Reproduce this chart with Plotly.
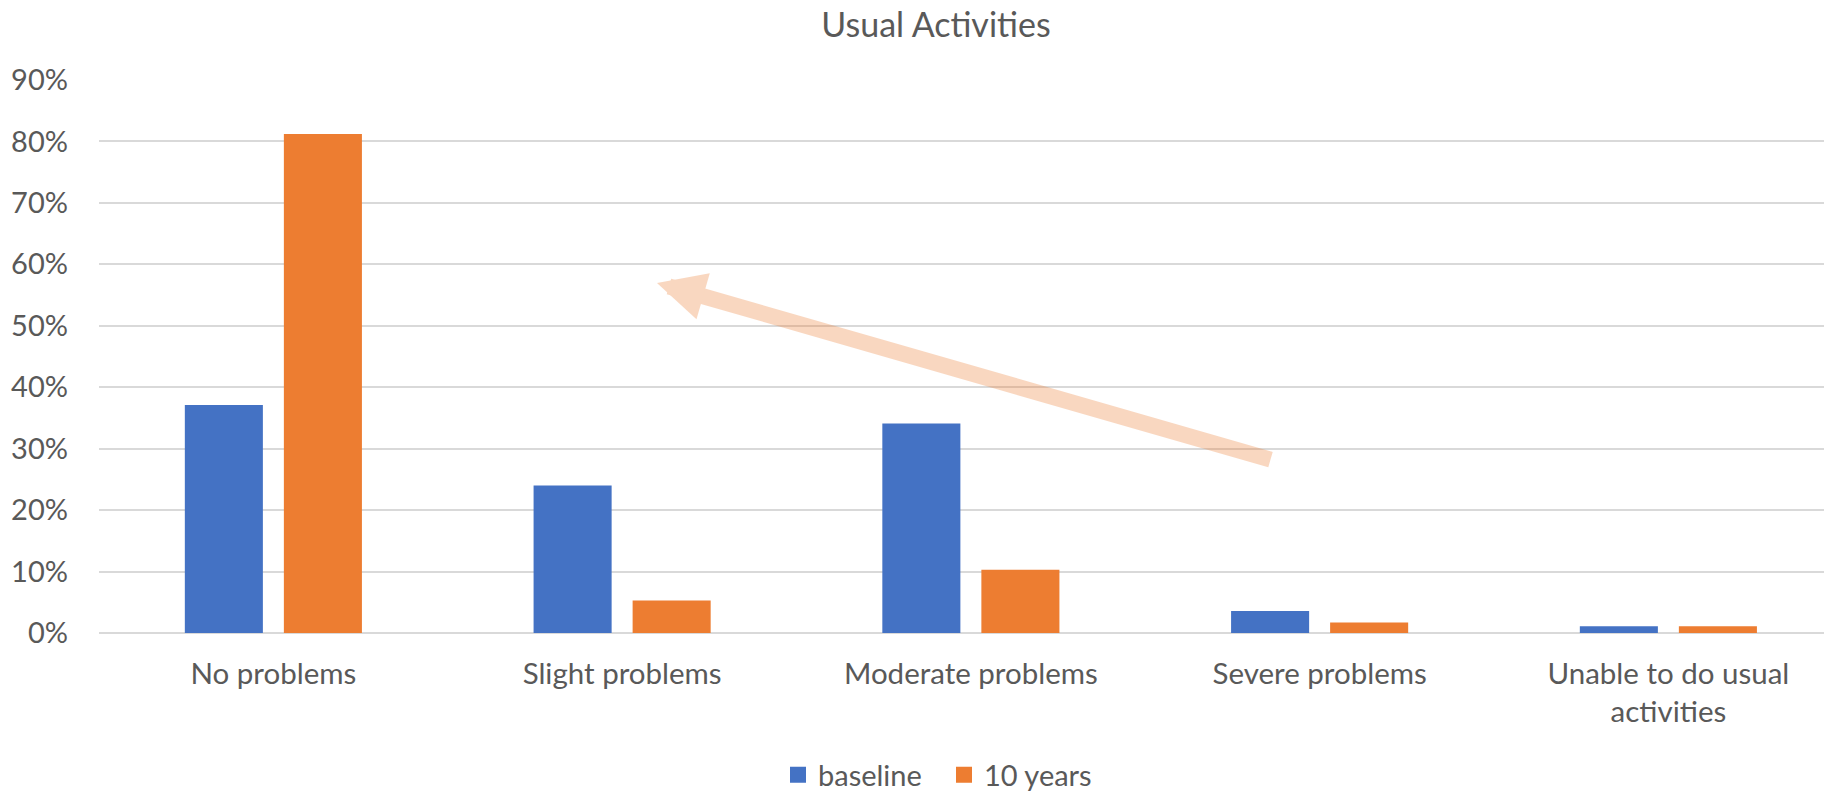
import plotly.graph_objects as go

categories = ["No problems", "Slight problems", "Moderate problems", "Severe problems",
              "Unable to do usual<br>activities"]
baseline = [0.371, 0.240, 0.341, 0.036, 0.011]
ten_years = [0.812, 0.053, 0.103, 0.017, 0.011]
y_ticks = [0, 0.1, 0.2, 0.3, 0.4, 0.5, 0.6, 0.7, 0.8, 0.9]
series_names = ["baseline", "10 years"]
series_colors = ["#4472C4", "#ED7D31"]

FONT = "Lato"
GREY = "#595959"
W, H = 1832, 793
OFF = 8  # page body margin offset of the rendered figure
L, R, T = 99 - OFF, OFF, 80 - OFF
B = H - (633 - OFF)

fig = go.Figure()
xs = list(range(len(categories)))
for name, vals, col in zip(series_names, [baseline, ten_years], series_colors):
    fig.add_trace(go.Bar(x=xs, y=vals, name=name, showlegend=False,
                         marker=dict(color=col, line=dict(width=0))))
# legend entries with larger square swatches
for name, col in zip(series_names, series_colors):
    fig.add_trace(go.Scatter(x=[None], y=[None], mode="markers", name=name,
                             marker=dict(symbol="square", size=16, color=col)))

pw = W - L - R
ph = H - T - B
tip_x, tip_y = 657 - OFF, 283 - OFF
tail_x, tail_y = 1272 - OFF, 460 - OFF

fig.add_annotation(
    x=(tip_x - L) / pw, y=(H - B - tip_y) / ph, xref="paper", yref="paper",
    ax=tail_x - tip_x, ay=tail_y - tip_y, axref="pixel", ayref="pixel",
    showarrow=True, arrowhead=2, arrowsize=0.6, arrowwidth=16,
    arrowcolor="rgba(237,125,49,0.3)", text="",
)

fig.update_layout(
    width=W, height=H,
    margin=dict(l=L, r=R, t=T, b=B, autoexpand=False),
    paper_bgcolor="white", plot_bgcolor="white",
    font=dict(family=FONT, color=GREY, size=27),
    title=dict(text="Usual Activities", x=(936 - OFF) / W, xanchor="center", xref="container",
               y=1 - (25 - OFF) / H, yanchor="middle", font=dict(size=34, color=GREY, family=FONT)),
    barmode="group", bargap=0.432, bargroupgap=0.212,
    showlegend=True,
    legend=dict(orientation="h", x=(944 - OFF - L) / pw, xanchor="center",
                y=(H - B - (775 - OFF)) / ph, yanchor="middle",
                font=dict(size=29, color=GREY, family=FONT), itemwidth=30,
                entrywidth=121, entrywidthmode="pixels",
                traceorder="normal"),
    xaxis=dict(tickmode="array", tickvals=xs, ticktext=categories, automargin=False,
               range=[-0.5, -0.5 + pw / 348.75], showgrid=False, zeroline=False,
               showline=False, ticks="", ticklabelstandoff=20,
               tickfont=dict(size=29.5, color=GREY, family=FONT)),
    yaxis=dict(range=[0, 0.9], tickvals=y_ticks, tickformat=".0%", automargin=False,
               showgrid=True, gridcolor="#D9D9D9", gridwidth=2,
               zeroline=True, zerolinecolor="#D9D9D9", zerolinewidth=2,
               showline=False, ticks="", ticklabelstandoff=30,
               tickfont=dict(size=29, color=GREY, family=FONT)),
)

fig.write_html("out.html")
